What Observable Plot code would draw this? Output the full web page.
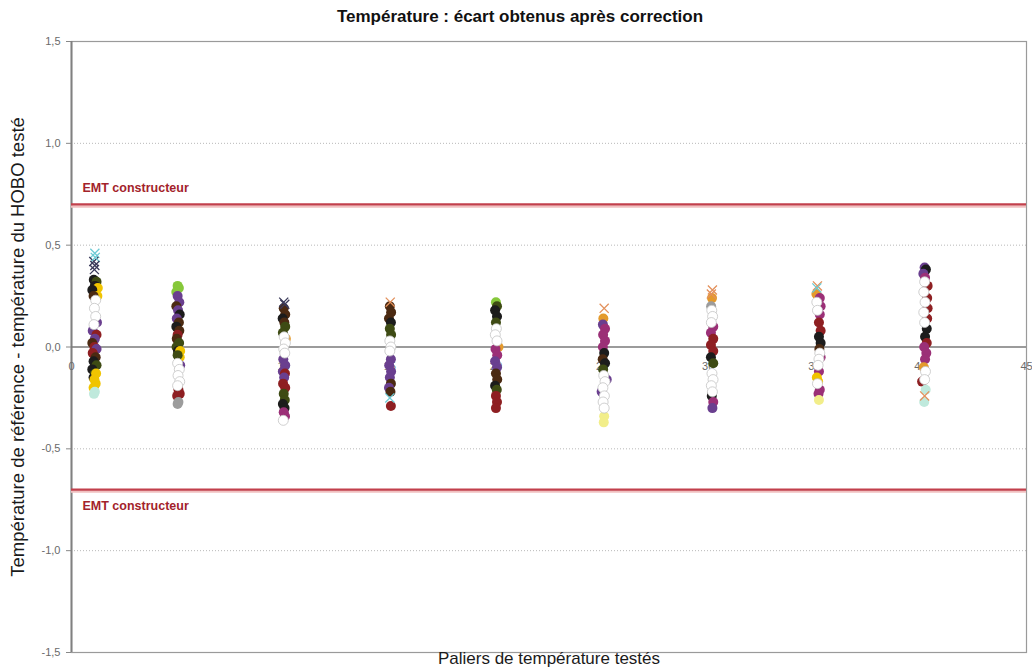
<!DOCTYPE html>
<html><head><meta charset="utf-8">
<script src="https://cdn.jsdelivr.net/npm/d3@7"></script>
<script src="https://cdn.jsdelivr.net/npm/@observablehq/plot@0.6"></script>
<style>
body{margin:0;background:#fff;font-family:"Liberation Sans",Arial,sans-serif;}
#title{height:28px;padding-top:2px;line-height:30px;text-align:center;padding-left:8px;font-weight:bold;font-size:17px;color:#111;}
#chart svg{display:block;}
</style></head>
<body>
<div id="title">Température : écart obtenus après correction</div>
<div id="chart"></div>
<script>
// Series (HOBO loggers), colors and symbols
const series  = ["H1","H2","H3","H4","H5","H6","H7","H8","H9","H10","H11","H12","H13","H14","H15","H16"];
const couleurs = ["#1c1c1c","#4b2a12","#3e4b14","#6a3f8f","#8e1f22","#f0c400","#ffffff","#9b3077","#9c9c9c","#86c83a","#e49a2c","#6ccad4","#3a3a5a","#e3915c","#f2ee8a","#bfe9dc"];
const croix = ["H12","H13","H14"];
const blanc = "H7";

const xTicks = [0,5,10,15,20,25,30,35,40,45];
const yTicks = [-1.5,-1,-0.5,0,0.5,1,1.5];
const grille = [-1,-0.5,0.5,1];
const emtHaut = [0.7];
const emtBas = [-0.7];

// [serie, palier (°C), écart]
const palier1 = [["H12",1.10,0.46],["H13",1.05,0.42],["H12",1.12,0.44],["H13",1.10,0.40],["H13",1.08,0.38],
["H1",1.05,0.33],["H3",1.18,0.32],["H1",1.10,0.30],["H6",1.24,0.29],["H1",0.98,0.28],["H6",1.22,0.25],["H2",1.04,0.25],
["H7",1.14,0.23],["H7",1.08,0.19],["H7",1.14,0.15],["H7",1.06,0.11],
["H4",1.20,0.12],["H4",1.00,0.08],["H5",1.18,0.06],["H4",1.10,0.04],["H2",0.98,0.02],["H5",1.08,0.00],["H4",1.18,-0.01],["H5",1.00,-0.03],["H2",1.14,-0.05],["H1",1.04,-0.07],["H3",1.18,-0.09],["H1",0.98,-0.11],["H3",1.10,-0.13],["H1",1.04,-0.15],
["H6",1.16,-0.13],["H6",1.08,-0.16],["H6",1.14,-0.18],["H6",1.04,-0.20],["H16",1.10,-0.22],["H16",1.06,-0.23]];
const palier2 = [["H10",5.00,0.30],["H10",5.06,0.29],["H10",4.94,0.27],
["H4",5.00,0.25],["H4",5.08,0.22],["H2",4.94,0.20],["H4",5.02,0.18],["H1",5.10,0.16],["H4",4.96,0.14],["H2",5.06,0.12],["H1",4.94,0.10],["H2",5.08,0.08],["H5",5.00,0.06],["H2",4.96,0.04],["H3",5.07,0.02],["H3",4.95,0.00],["H1",5.02,-0.02],["H6",5.12,-0.02],["H6",5.10,-0.05],["H3",5.00,-0.04],
["H7",5.00,-0.08],["H7",5.08,-0.11],["H7",5.02,-0.14],["H7",5.10,-0.17],["H7",5.00,-0.19],
["H4",5.12,-0.09],["H5",5.04,-0.21],["H5",4.98,-0.24],["H5",5.10,-0.23],["H9",5.04,-0.27],["H9",5.00,-0.28]];
const palier3 = [["H13",10.00,0.22],["H13",10.05,0.21],
["H2",10.00,0.19],["H2",10.07,0.16],["H1",9.95,0.14],["H2",10.03,0.12],["H3",10.07,0.10],["H3",9.96,0.07],["H11",10.10,0.04],
["H7",10.02,0.05],["H7",10.08,0.02],["H7",10.00,-0.01],["H7",10.05,-0.03],
["H4",9.98,-0.06],["H4",10.07,-0.09],["H4",9.96,-0.12],["H5",10.06,-0.13],["H4",10.02,-0.15],["H5",9.97,-0.18],["H5",10.07,-0.20],["H3",10.00,-0.23],["H3",10.05,-0.26],["H1",9.96,-0.28],["H1",10.04,-0.30],["H8",10.00,-0.32],["H8",10.06,-0.34],["H7",9.98,-0.36]];
const palier4 = [["H14",15.02,0.22],
["H2",15.00,0.20],["H2",15.06,0.17],["H2",14.96,0.14],["H1",15.05,0.12],["H3",15.00,0.09],["H3",15.06,0.06],
["H7",15.00,0.03],["H7",15.05,0.00],["H7",15.00,-0.02],
["H4",15.05,-0.06],["H4",14.97,-0.09],["H4",15.06,-0.12],["H4",15.00,-0.15],["H2",15.05,-0.18],["H4",14.96,-0.20],["H2",15.03,-0.22],["H12",15.00,-0.25],["H5",15.05,-0.29]];
const palier5 = [["H10",20.00,0.22],["H3",20.05,0.20],["H1",19.96,0.18],["H1",20.05,0.15],["H3",20.00,0.12],
["H7",20.02,0.09],["H7",19.97,0.06],["H7",20.05,0.03],
["H11",20.12,0.00],["H8",19.98,-0.01],["H8",20.06,-0.04],["H4",19.96,-0.07],["H4",20.05,-0.10],["H2",20.00,-0.13],["H2",20.06,-0.16],["H1",19.96,-0.19],["H3",20.04,-0.21],["H5",20.00,-0.24],["H5",20.05,-0.27],["H5",20.00,-0.30]];
const palier6 = [["H14",25.10,0.19],["H11",25.06,0.14],["H4",25.04,0.11],["H8",25.14,0.09],["H8",25.05,0.06],["H8",25.14,0.03],["H8",25.04,0.00],["H1",25.10,-0.03],["H2",25.03,-0.06],["H1",25.14,-0.08],["H3",25.05,-0.11],["H4",25.22,-0.16],["H4",24.98,-0.22],
["H7",25.08,-0.14],["H7",25.14,-0.17],["H7",25.04,-0.20],["H7",25.11,-0.24],["H7",25.05,-0.27],["H7",25.10,-0.30],
["H15",25.10,-0.34],["H15",25.08,-0.37]];
const palier7 = [["H14",30.20,0.28],["H14",30.15,0.26],["H11",30.18,0.24],["H9",30.14,0.20],
["H8",30.24,0.10],["H8",30.13,0.07],["H5",30.24,0.04],["H5",30.13,0.01],["H5",30.24,-0.02],["H1",30.13,-0.05],["H3",30.24,-0.08],["H1",30.17,-0.24],["H8",30.24,-0.27],["H4",30.20,-0.30],
["H7",30.17,0.18],["H7",30.21,0.15],["H7",30.15,0.12],["H7",30.18,-0.13],["H7",30.23,-0.16],["H7",30.15,-0.19],["H7",30.20,-0.22]];
const palier8 = [["H14",35.15,0.30],["H12",35.12,0.29],["H11",35.10,0.26],["H8",35.26,0.24],["H8",35.30,0.20],["H8",35.26,0.16],["H5",35.22,0.12],["H5",35.30,0.08],["H1",35.22,0.05],["H1",35.30,0.02],["H2",35.24,-0.01],["H8",35.30,-0.05],["H8",35.22,-0.12],["H6",35.12,-0.15],["H6",35.18,-0.17],["H8",35.26,-0.21],["H8",35.20,-0.23],["H15",35.22,-0.26],
["H7",35.12,0.22],["H7",35.15,0.18],["H7",35.26,-0.03],["H7",35.22,-0.06],["H7",35.18,-0.09],["H7",35.15,-0.18]];
const palier9 = [["H4",40.20,0.39],["H1",40.26,0.38],["H4",40.14,0.36],["H8",40.22,0.34],
["H5",40.34,0.30],["H5",40.32,0.24],["H5",40.34,0.19],["H5",40.32,0.14],
["H1",40.30,0.09],["H1",40.22,0.05],["H5",40.30,0.02],["H8",40.18,0.00],["H8",40.28,-0.03],["H8",40.22,-0.06],["H11",40.16,-0.10],["H5",40.08,-0.17],["H16",40.25,-0.21],["H14",40.20,-0.24],["H16",40.18,-0.27],
["H7",40.20,0.32],["H7",40.16,0.27],["H7",40.22,0.22],["H7",40.16,0.17],["H7",40.20,0.12],["H7",40.24,-0.12],["H7",40.20,-0.16]];

const points = [palier1,palier2,palier3,palier4,palier5,palier6,palier7,palier8,palier9]
  .flat().map(([s,x,y]) => ({s,x,y}));
const pleins = points.filter(d => !croix.includes(d.s) && d.s !== blanc);
const blancs = points.filter(d => d.s === blanc);
const marques = points.filter(d => croix.includes(d.s));

const fmt = d => d3.format(".1f")(d).replace(".", ",").replace("\u2212", "-");
const font = '"Liberation Sans", Arial, sans-serif';

const chart = Plot.plot({
  width: 1032, height: 642,
  marginTop: 11, marginBottom: 20, marginLeft: 71, marginRight: 6,
  style: {fontFamily: font, background: "#fff"},
  x: {domain: [0,45], axis: null},
  y: {domain: [-1.5,1.5], axis: null},
  color: {domain: series, range: couleurs},
  marks: [
    Plot.ruleY(grille, {stroke: "#b8b8b8", strokeDasharray: "1,2", strokeWidth: 1}),
    Plot.frame({stroke: "#9a9a9a", strokeWidth: 1.2}),
    Plot.axisY({ticks: yTicks, tickFormat: fmt, tickSize: 5, tickPadding: 6, stroke: "#888", fill: "#6a6a6a", fontSize: 11, label: null}),
    Plot.ruleX([0], {stroke: "#808080", strokeWidth: 2}),
    Plot.ruleY([0], {stroke: "#7a7a7a", strokeWidth: 1.5}),
    Plot.text(xTicks, {x: d => d, y: d => 0, text: d => String(d), dy: 19, fill: "#6a6a6a", fontSize: 11}),
    Plot.ruleY([...emtHaut, ...emtBas], {stroke: "#f0c0c0", strokeWidth: 2.5, dy: 2}),
    Plot.ruleY([...emtHaut, ...emtBas], {stroke: "#c2404c", strokeWidth: 2.2}),
    Plot.text(emtHaut, {y: d => d, frameAnchor: "left", dx: 11, dy: -16, text: () => "EMT constructeur", textAnchor: "start", fill: "#a3232b", fontWeight: "bold", fontSize: 12.5}),
    Plot.text(emtBas, {y: d => d, frameAnchor: "left", dx: 11, dy: 16, text: () => "EMT constructeur", textAnchor: "start", fill: "#a3232b", fontWeight: "bold", fontSize: 12.5}),
    Plot.dot(pleins, {x: "x", y: "y", fill: "s", r: 5}),
    Plot.dot(blancs, {x: "x", y: "y", fill: "s", stroke: "#c4c4c4", strokeWidth: 0.8, r: 5}),
    Plot.dot(marques, {x: "x", y: "y", stroke: "s", symbol: "times", r: 4.2, strokeWidth: 1.3}),
    Plot.text(["Température de référence - température du HOBO testé"], {frameAnchor: "left", dx: -53, rotate: -90, text: d => d, fontSize: 18.5, fill: "#1a1a1a", textAnchor: "middle"}),
    Plot.text(["Paliers de température testés"], {frameAnchor: "bottom", dy: 11, text: d => d, fontSize: 17, fill: "#1a1a1a"})
  ]
});
document.getElementById("chart").appendChild(chart);
</script>
</body></html>
